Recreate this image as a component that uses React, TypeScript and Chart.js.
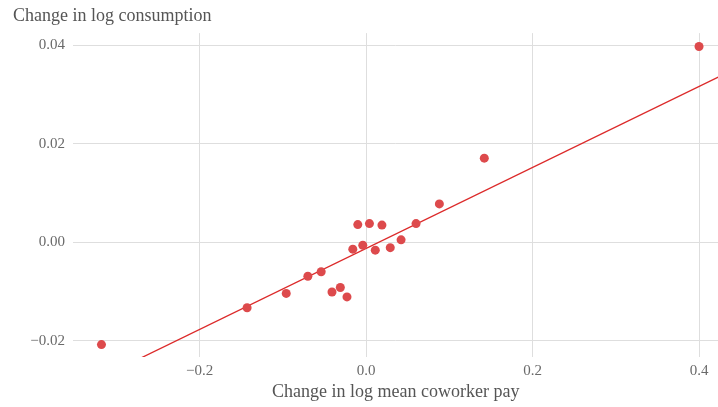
import React, { useEffect, useRef } from "react";
import { Chart, registerables } from "chart.js";

Chart.register(...registerables);

const pointX = [-0.318, -0.143, -0.096, -0.070, -0.054, -0.041, -0.031, -0.023, -0.016, -0.010, -0.004, 0.004, 0.011, 0.019, 0.029, 0.042, 0.060, 0.088, 0.142, 0.400];
const pointY = [-0.0208, -0.0133, -0.0104, -0.0069, -0.0060, -0.0101, -0.0092, -0.0111, -0.0014, 0.0036, -0.0006, 0.0038, -0.0016, 0.0035, -0.0011, 0.0005, 0.0038, 0.0078, 0.0171, 0.0398];
const fitIntercept = -0.00125;
const fitSlope = 0.0823;
const fitX = [-0.36, 0.43];
const xTicks = [-0.2, 0, 0.2, 0.4];
const yTicks = [-0.02, 0, 0.02, 0.04];
const xTitle = "Change in log mean coworker pay";
const yTitle = "Change in log consumption";

const FONT = "'Liberation Serif', 'Times New Roman', serif";
const fmt = (v: number, d: number) => {
  const s = Math.abs(v).toFixed(d);
  return v < -1e-9 ? "\u2212" + s : s;
};

export default function App() {
  const ref = useRef<HTMLCanvasElement | null>(null);
  useEffect(() => {
    if (!ref.current) return;
    const chart = new Chart(ref.current, {
      type: "scatter",
      data: {
        datasets: [
          {
            type: "scatter",
            data: pointX.map((x, i) => ({ x, y: pointY[i] })),
            backgroundColor: "#dd4a4c",
            borderWidth: 0,
            pointRadius: 4.5,
            order: 1,
          },
          {
            type: "line",
            data: fitX.map((x) => ({ x, y: fitIntercept + fitSlope * x })),
            borderColor: "#dc2a2a",
            borderWidth: 1.3,
            pointRadius: 0,
            fill: false,
            order: 2,
          } as any,
        ],
      },
      options: {
        animation: false,
        responsive: false,
        layout: { padding: { left: 13, right: 0, top: 0, bottom: 0 } },
        plugins: {
          legend: { display: false },
          tooltip: { enabled: false },
          title: {
            display: true,
            text: yTitle,
            align: "start",
            color: "#555",
            font: { family: FONT, size: 18, weight: "normal", lineHeight: 1.2 },
            padding: { top: 5, bottom: 6.5 },
          },
        },
        scales: {
          x: {
            type: "linear",
            min: -0.3522,
            max: 0.4234,
            afterBuildTicks: (s: any) => {
              s.ticks = xTicks.map((v) => ({ value: v }));
            },
            afterFit: (s: any) => {
              s.height = 50;
              s.paddingLeft = 0;
              s.paddingRight = 0;
            },
            ticks: {
              callback: (v: any) => fmt(Number(v), 1),
              color: "#6a6a6a",
              font: { family: FONT, size: 15 },
              padding: 5,
              maxRotation: 0,
            },
            grid: { color: "#dedede", drawTicks: false },
            border: { display: false },
            title: {
              display: true,
              text: xTitle,
              color: "#555",
              font: { family: FONT, size: 18, lineHeight: 1.2 },
              padding: { top: 4, bottom: 4 },
            },
          },
          y: {
            type: "linear",
            min: -0.02332,
            max: 0.04252,
            afterBuildTicks: (s: any) => {
              s.ticks = yTicks.map((v) => ({ value: v }));
            },
            afterFit: (s: any) => {
              s.width = 60;
              s.paddingTop = 0;
              s.paddingBottom = 0;
            },
            ticks: {
              callback: (v: any) => fmt(Number(v), 2),
              color: "#6a6a6a",
              font: { family: FONT, size: 15 },
              padding: 8,
            },
            grid: { color: "#dedede", drawTicks: false },
            border: { display: false },
          },
        },
      },
    });
    return () => chart.destroy();
  }, []);
  return (
    <div style={{ position: "absolute", left: 0, top: 0, width: 718, height: 407, overflow: "hidden" }}>
      <canvas ref={ref} width={723} height={407} style={{ width: 723, height: 407, display: "block" }} />
    </div>
  );
}
